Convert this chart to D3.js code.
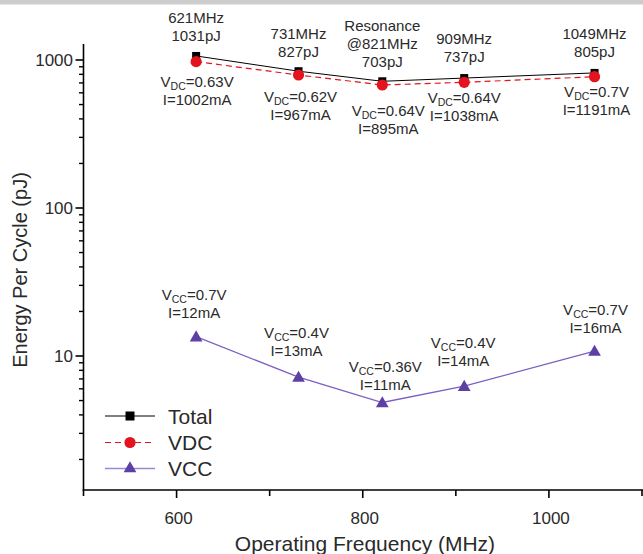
<!DOCTYPE html>
<html>
<head>
<meta charset="utf-8">
<script src="https://cdn.jsdelivr.net/npm/d3@7"></script>
<style>
  html, body { margin: 0; padding: 0; background: #fff; }
  svg { display: block; font-family: "Liberation Sans", Arial, sans-serif; }
</style>
</head>
<body>
<svg id="chart" width="643" height="554"></svg>
<script>
// ---------- data ----------
const freq  = [621, 731, 821, 909, 1049];          // MHz
const total = [1065, 840, 718, 755, 818];          // pJ
const vdc   = [975, 792, 678, 707, 771];           // pJ
const vcc   = [13.5, 7.2, 4.85, 6.25, 10.8];       // pJ

const topLabels = [
  ["621MHz", "1031pJ"],
  ["731MHz", "827pJ"],
  ["Resonance", "@821MHz", "703pJ"],
  ["909MHz", "737pJ"],
  ["1049MHz", "805pJ"]
];
const vdcVolt = ["0.63V", "0.62V", "0.64V", "0.64V", "0.7V"];
const vdcCurr = ["I=1002mA", "I=967mA", "I=895mA", "I=1038mA", "I=1191mA"];
const vccVolt = ["0.7V", "0.4V", "0.36V", "0.4V", "0.7V"];
const vccCurr = ["I=12mA", "I=13mA", "I=11mA", "I=14mA", "I=16mA"];

const xTicksMajor = [600, 800, 1000];
const xTicksMinor = [500, 700, 900, 1100];
const yTickLabels = [10, 100, 1000];
const seriesNames = ["Total", "VDC", "VCC"];

// label layout offsets (pixels relative to marker)
const topDy = [-15, -14.5, -14.5, -16, -16];
const vdcDx = [1, 2, 6, 0, 2];
const vdcDy = [25, 27.5, 31, 21, 20];
const vccDx = [-2, -2, 3, -1, 1];
const vccDy = [-18.5, -21.5, -13, -20.5, -18.5];

// ---------- setup ----------
const svg = d3.select("#chart");
const textColor = "#2a2a2a";
const cTotal = "#000000", cVdc = "#e3141e", cVccLine = "#7b5fc4", cVcc = "#5e3fa3";

svg.append("rect").attr("x", 0).attr("y", 0).attr("width", 643).attr("height", 4.5).attr("fill", "#cdcdcd");

const x = d3.scaleLinear().domain([500, 1100]).range([83.5, 642]);
const y = d3.scaleLog().domain([10, 1000]).range([356, 60]);
const axisTop = 44, axisBottom = 490, axisLeft = 83.5, axisRight = 643;

// ---------- axes ----------
const axes = svg.append("g").attr("stroke", "#000").attr("stroke-width", 1.6);
axes.append("line").attr("x1", axisLeft).attr("x2", axisLeft).attr("y1", axisTop).attr("y2", axisBottom + 0.8);
axes.append("line").attr("x1", axisLeft - 0.8).attr("x2", axisRight).attr("y1", axisBottom).attr("y2", axisBottom);

// y ticks (log)
const yTicks = [];
[1, 10, 100].forEach(dec => { for (let k = 1; k <= 9; k++) yTicks.push(dec * k); });
yTicks.push(1000);
yTicks.filter(v => y(v) <= axisBottom && y(v) >= axisTop).forEach(v => {
  const major = yTickLabels.includes(v);
  axes.append("line")
    .attr("x1", axisLeft - (major ? 8 : 4.5)).attr("x2", axisLeft)
    .attr("y1", y(v)).attr("y2", y(v))
    .attr("stroke-width", major ? 1.6 : 1.4);
});
svg.append("g").selectAll("text").data(yTickLabels).join("text")
  .attr("x", 73).attr("y", d => y(d)).attr("dy", "0.36em")
  .attr("text-anchor", "end").attr("font-size", 17).attr("fill", textColor)
  .text(d => d);

// x ticks
xTicksMajor.forEach(v => {
  axes.append("line").attr("x1", x(v)).attr("x2", x(v)).attr("y1", axisBottom).attr("y2", axisBottom + 8);
});
xTicksMinor.forEach(v => {
  axes.append("line").attr("x1", x(v)).attr("x2", x(v)).attr("y1", axisBottom).attr("y2", axisBottom + 6);
});
svg.append("g").selectAll("text").data(xTicksMajor).join("text")
  .attr("x", d => x(d) + 2).attr("y", 524)
  .attr("text-anchor", "middle").attr("font-size", 17).attr("fill", textColor)
  .text(d => d);

// axis titles
svg.append("text").attr("x", 365).attr("y", 551).attr("text-anchor", "middle")
  .attr("font-size", 21).attr("fill", textColor).text("Operating Frequency (MHz)");
svg.append("text").attr("transform", "translate(27,270) rotate(-90)").attr("text-anchor", "middle")
  .attr("font-size", 20).attr("fill", textColor).text("Energy Per Cycle (pJ)");

// ---------- series ----------
const line = d3.line().x(d => x(d[0])).y(d => y(d[1]));
const ptsTotal = freq.map((f, i) => [f, total[i]]);
const ptsVdc = freq.map((f, i) => [f, vdc[i]]);
const ptsVcc = freq.map((f, i) => [f, vcc[i]]);

svg.append("path").datum(ptsTotal).attr("d", line).attr("fill", "none").attr("stroke", cTotal).attr("stroke-width", 1);
svg.append("path").datum(ptsVcc).attr("d", line).attr("fill", "none").attr("stroke", cVccLine).attr("stroke-width", 1.3);

const sq = 8;
svg.append("g").selectAll("rect").data(ptsTotal).join("rect")
  .attr("x", d => x(d[0]) - sq / 2).attr("y", d => y(d[1]) - sq / 2)
  .attr("width", sq).attr("height", sq).attr("fill", cTotal);

svg.append("path").datum(ptsVdc).attr("d", line).attr("fill", "none").attr("stroke", cVdc)
  .attr("stroke-width", 1.2).attr("stroke-dasharray", "6,4");
svg.append("g").selectAll("circle").data(ptsVdc).join("circle")
  .attr("cx", d => x(d[0])).attr("cy", d => y(d[1])).attr("r", 5.6).attr("fill", cVdc);

const tri = d3.symbol().type(d3.symbolTriangle).size(70);
svg.append("g").selectAll("path").data(ptsVcc).join("path")
  .attr("transform", d => `translate(${x(d[0])},${y(d[1]) + 1})`)
  .attr("d", tri).attr("fill", cVcc);

// ---------- annotations ----------
const fs = 15, lh = 18;
const ann = svg.append("g").attr("font-size", fs).attr("fill", textColor).attr("text-anchor", "middle");

topLabels.forEach((lines, i) => {
  const cx = x(freq[i]), by = y(total[i]) + topDy[i];
  lines.forEach((t, j) => {
    ann.append("text").attr("x", cx).attr("y", by - (lines.length - 1 - j) * lh).text(t);
  });
});

function subLabel(g, cx, by, sub, rest) {
  const t = g.append("text").attr("x", cx).attr("y", by);
  t.append("tspan").text("V");
  t.append("tspan").attr("font-size", 10.5).attr("dy", 3).text(sub);
  t.append("tspan").attr("dy", -3).text("=" + rest);
}

freq.forEach((f, i) => {
  const cx = x(f) + vdcDx[i], by = y(vdc[i]) + vdcDy[i];
  subLabel(ann, cx, by, "DC", vdcVolt[i]);
  ann.append("text").attr("x", cx).attr("y", by + lh).text(vdcCurr[i]);
});

freq.forEach((f, i) => {
  const cx = x(f) + vccDx[i], by = y(vcc[i]) + vccDy[i];
  subLabel(ann, cx, by - lh, "CC", vccVolt[i]);
  ann.append("text").attr("x", cx).attr("y", by).text(vccCurr[i]);
});

// ---------- legend ----------
const leg = svg.append("g");
const legY = [416, 442.5, 468.5];
seriesNames.forEach((name, i) => {
  const yy = legY[i];
  const ln = leg.append("line").attr("x1", 105).attr("x2", 155).attr("y1", yy).attr("y2", yy);
  if (i === 0) {
    ln.attr("stroke", cTotal).attr("stroke-width", 1);
    leg.append("rect").attr("x", 130 - 4.5).attr("y", yy - 4.5).attr("width", 9).attr("height", 9).attr("fill", cTotal);
  } else if (i === 1) {
    ln.attr("stroke", cVdc).attr("stroke-width", 1.2).attr("stroke-dasharray", "6,4");
    leg.append("circle").attr("cx", 130).attr("cy", yy).attr("r", 5.6).attr("fill", cVdc);
  } else {
    ln.attr("stroke", "#9a86d6").attr("stroke-width", 1.5);
    leg.append("path").attr("transform", `translate(130,${yy})`).attr("d", tri).attr("fill", cVcc);
  }
  leg.append("text").attr("x", 168).attr("y", yy).attr("dy", "0.36em")
    .attr("font-size", 21).attr("fill", textColor).text(name);
});
</script>
</body>
</html>
